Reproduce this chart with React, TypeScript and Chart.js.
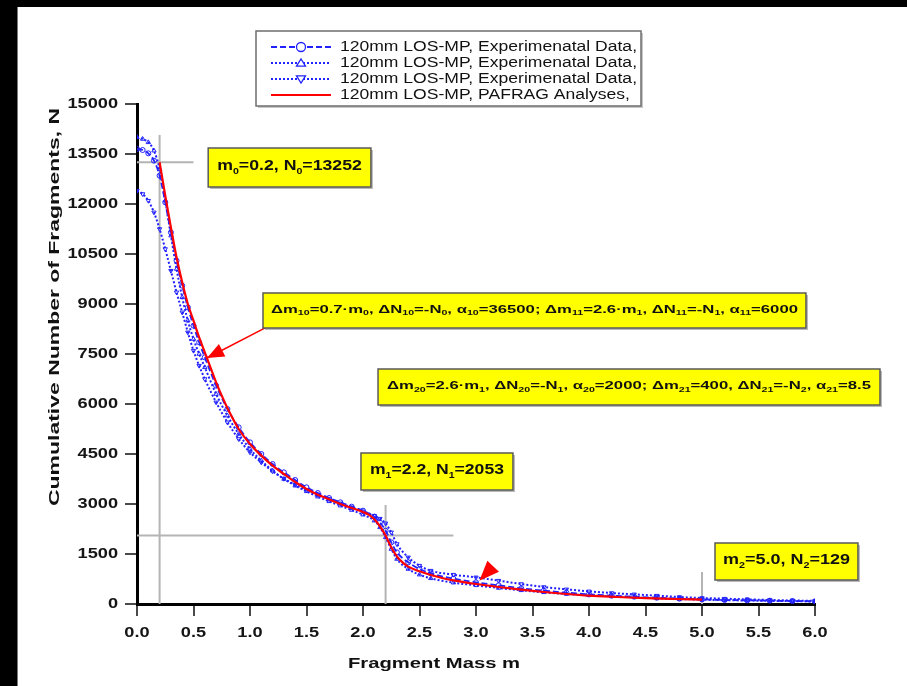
import React, { useEffect, useRef } from 'react';
import { Chart, registerables } from 'chart.js';

Chart.register(...registerables);

const W = 907;
const H = 686;

// ---------- data ----------
const X_TICK_VALUES = [0, 0.5, 1, 1.5, 2, 2.5, 3, 3.5, 4, 4.5, 5, 5.5, 6];
const X_TICK_LABELS = ['0.0', '0.5', '1.0', '1.5', '2.0', '2.5', '3.0', '3.5', '4.0', '4.5', '5.0', '5.5', '6.0'];
const Y_TICK_VALUES = [0, 1500, 3000, 4500, 6000, 7500, 9000, 10500, 12000, 13500, 15000];
const Y_TICK_LABELS = ['0', '1500', '3000', '4500', '6000', '7500', '9000', '10500', '12000', '13500', '15000'];

const LEGEND_LABELS = [
  '120mm LOS-MP, Experimenatal Data,',
  '120mm LOS-MP, Experimenatal Data,',
  '120mm LOS-MP, Experimenatal Data,',
  '120mm LOS-MP, PAFRAG Analyses,',
];

const MASS_EXP = [0, 0.05, 0.1, 0.15, 0.2, 0.25, 0.3, 0.35, 0.4, 0.45, 0.5, 0.55, 0.6, 0.7, 0.8, 0.9, 1.0, 1.1, 1.2, 1.3, 1.4, 1.5, 1.6, 1.7, 1.8, 1.9, 2.0, 2.1, 2.15, 2.2, 2.25, 2.3, 2.4, 2.5, 2.6, 2.8, 3.0, 3.2, 3.4, 3.6, 3.8, 4.0, 4.2, 4.4, 4.6, 4.8, 5.0, 5.2, 5.4, 5.6, 5.8, 6.0];
const EXP_A = [13650, 13620, 13520, 13300, 12850, 12050, 11150, 10300, 9550, 8900, 8350, 7850, 7400, 6550, 5850, 5300, 4850, 4500, 4200, 3950, 3720, 3500, 3330, 3180, 3050, 2920, 2800, 2620, 2450, 2200, 1850, 1550, 1250, 1050, 920, 760, 650, 560, 470, 400, 340, 290, 250, 220, 190, 160, 140, 120, 110, 100, 90, 80];
const EXP_B = [14000, 13950, 13850, 13600, 13050, 12100, 11050, 10050, 9200, 8500, 7950, 7500, 7100, 6300, 5650, 5100, 4650, 4300, 4000, 3750, 3550, 3380, 3220, 3080, 2950, 2820, 2680, 2500, 2300, 2000, 1650, 1350, 1050, 880, 770, 640, 560, 480, 410, 350, 300, 260, 230, 200, 170, 150, 130, 115, 105, 95, 85, 75];
const EXP_C = [12400, 12300, 12100, 11750, 11250, 10650, 10000, 9350, 8750, 8150, 7600, 7150, 6750, 6050, 5450, 4950, 4550, 4250, 3980, 3760, 3580, 3420, 3280, 3150, 3020, 2900, 2780, 2650, 2560, 2420, 2150, 1800, 1400, 1150, 1000, 880, 800, 700, 600, 510, 440, 380, 330, 290, 250, 210, 180, 160, 140, 120, 105, 95];

const MASS_PAFRAG = [0.2, 0.25, 0.3, 0.35, 0.4, 0.45, 0.5, 0.55, 0.6, 0.65, 0.7, 0.75, 0.8, 0.9, 1.0, 1.1, 1.2, 1.3, 1.4, 1.5, 1.6, 1.7, 1.8, 1.9, 2.0, 2.05, 2.1, 2.15, 2.2, 2.25, 2.3, 2.35, 2.4, 2.5, 2.6, 2.7, 2.8, 3.0, 3.2, 3.4, 3.6, 3.8, 4.0, 4.25, 4.5, 4.75, 5.0];
const N_PAFRAG = [13252, 12250, 11300, 10400, 9650, 9000, 8500, 8000, 7550, 7100, 6650, 6250, 5880, 5250, 4800, 4450, 4150, 3900, 3660, 3450, 3280, 3140, 3000, 2880, 2760, 2680, 2540, 2330, 2053, 1700, 1430, 1250, 1120, 980, 870, 780, 710, 600, 510, 430, 360, 300, 250, 210, 175, 150, 129];

// reference (guide) lines
const GUIDE_V_MASS = [0.2, 2.2, 5.0];
const GUIDE_V_TOP = [14070, 2970, 960];
const GUIDE_H_N = [13252, 2053];
const GUIDE_H_END = [0.5, 2.8];

// annotation texts: [text, isSubscript]
type Part = [string, boolean];
const T_M0: Part[] = [['m', false], ['0', true], ['=0.2, N', false], ['0', true], ['=13252', false]];
const T_M1: Part[] = [['m', false], ['1', true], ['=2.2, N', false], ['1', true], ['=2053', false]];
const T_M2: Part[] = [['m', false], ['2', true], ['=5.0, N', false], ['2', true], ['=129', false]];
const T_D1: Part[] = [
  ['Δm', false], ['10', true], ['=0.7·m', false], ['0', true], [', ΔN', false], ['10', true], ['=-N', false], ['0', true],
  [', α', false], ['10', true], ['=36500; Δm', false], ['11', true], ['=2.6·m', false], ['1', true], [', ΔN', false], ['11', true],
  ['=-N', false], ['1', true], [', α', false], ['11', true], ['=6000', false],
];
const T_D2: Part[] = [
  ['Δm', false], ['20', true], ['=2.6·m', false], ['1', true], [', ΔN', false], ['20', true], ['=-N', false], ['1', true],
  [', α', false], ['20', true], ['=2000; Δm', false], ['21', true], ['=400, ΔN', false], ['21', true], ['=-N', false], ['2', true],
  [', α', false], ['21', true], ['=8.5', false],
];

// ---------- layout / styles ----------
const FAM = '"Liberation Sans", Arial, Helvetica, sans-serif';
const BLUE = '#2222ff';
const RED = '#ff0000';
const TEXT_SX = 1.3;

const pts = (xs: number[], ys: number[]) => xs.map((x, i) => ({ x, y: ys[i] }));

function drawRich(ctx: CanvasRenderingContext2D, parts: Part[], x: number, y: number, size: number, bold: boolean, targetW: number | null, sxDefault: number, align: 'left' | 'center' | 'right') {
  const f = (sub: boolean) => `${bold ? 'bold ' : ''}${sub ? Math.round(size * 0.62) : size}px ${FAM}`;
  let raw = 0;
  const widths = parts.map((p) => {
    ctx.font = f(p[1]);
    const w = ctx.measureText(p[0]).width;
    raw += w;
    return w;
  });
  const sx = targetW ? targetW / raw : sxDefault;
  const total = raw * sx;
  const x0 = align === 'center' ? x - total / 2 : align === 'right' ? x - total : x;
  ctx.save();
  ctx.translate(x0, y);
  ctx.scale(sx, 1);
  ctx.textBaseline = 'middle';
  ctx.textAlign = 'left';
  let px = 0;
  parts.forEach((p, i) => {
    ctx.font = f(p[1]);
    ctx.fillText(p[0], px, p[1] ? size * 0.32 : 0);
    px += widths[i];
  });
  ctx.restore();
  return sx;
}

function arrowHead(ctx: CanvasRenderingContext2D, tx: number, ty: number, fx: number, fy: number, len: number, half: number) {
  const a = Math.atan2(ty - fy, tx - fx);
  ctx.beginPath();
  ctx.moveTo(tx, ty);
  ctx.lineTo(tx - len * Math.cos(a) + half * Math.sin(a), ty - len * Math.sin(a) - half * Math.cos(a));
  ctx.lineTo(tx - len * Math.cos(a) - half * Math.sin(a), ty - len * Math.sin(a) + half * Math.cos(a));
  ctx.closePath();
  ctx.fill();
}

const overlayPlugin = {
  id: 'overlay',
  beforeDraw(chart: any) {
    const ctx = chart.ctx as CanvasRenderingContext2D;
    ctx.save();
    ctx.fillStyle = '#ffffff';
    ctx.fillRect(0, 0, W, H);
    ctx.fillStyle = '#000000';
    ctx.fillRect(0, 0, W, 7);
    ctx.fillRect(0, 0, 17, H);
    ctx.fillStyle = '#7a7a7a';
    ctx.fillRect(17, 7, 1, H - 7);
    ctx.restore();
  },
  afterDraw(chart: any) {
    const ctx = chart.ctx as CanvasRenderingContext2D;
    const xs = chart.scales.x;
    const ys = chart.scales.y;
    const X = (v: number) => xs.getPixelForValue(v);
    const Y = (v: number) => ys.getPixelForValue(v);
    ctx.save();

    // tick labels (stretched, from the scales' own ticks)
    ctx.fillStyle = '#151515';
    xs.ticks.forEach((t: any, i: number) => {
      drawRich(ctx, [[X_TICK_LABELS[i], false]], X(t.value), 633, 14, true, null, TEXT_SX, 'center');
    });
    ys.ticks.forEach((t: any, i: number) => {
      drawRich(ctx, [[Y_TICK_LABELS[i], false]], 118, Y(t.value), 14, true, null, TEXT_SX, 'right');
    });

    // arrows
    ctx.strokeStyle = RED;
    ctx.fillStyle = RED;
    ctx.lineWidth = 1.5;
    const a1t = [X(0.62), Y(7380)];
    const a1f = [X(1.16), Y(8330)];
    ctx.beginPath();
    ctx.moveTo(a1f[0], a1f[1]);
    ctx.lineTo(a1t[0], a1t[1]);
    ctx.stroke();
    arrowHead(ctx, a1t[0], a1t[1], a1f[0], a1f[1], 17, 7);
    arrowHead(ctx, X(3.03), Y(700), X(3.17), Y(1200), 20, 8);

    // annotation boxes
    const box = (x0: number, x1: number, y0: number, y1: number, parts: Part[], size: number, pad: number) => {
      const l = X(x0), r = X(x1), t = Y(y0), b = Y(y1);
      ctx.fillStyle = '#b8b8b8';
      ctx.fillRect(l + 2, t + 2, r - l, b - t);
      ctx.fillStyle = '#ffff00';
      ctx.fillRect(l, t, r - l, b - t);
      ctx.strokeStyle = '#5a5a5a';
      ctx.lineWidth = 1.5;
      ctx.strokeRect(l, t, r - l, b - t);
      ctx.fillStyle = '#111';
      drawRich(ctx, parts, (l + r) / 2, (t + b) / 2 - size * 0.08, size, true, r - l - 2 * pad, 1, 'center');
    };
    box(0.63, 2.07, 13680, 12510, T_M0, 15, 9);
    box(1.115, 5.92, 9330, 8280, T_D1, 11, 8);
    box(2.133, 6.575, 7050, 5970, T_D2, 11, 9);
    box(1.982, 3.327, 4530, 3420, T_M1, 15, 9);
    box(5.115, 6.38, 1830, 720, T_M2, 15, 8);

    // legend
    const lx0 = 256, lx1 = 641, ly0 = 31, ly1 = 106;
    ctx.fillStyle = '#c8c8c8';
    ctx.fillRect(lx0 + 2, ly0 + 2, lx1 - lx0, ly1 - ly0);
    ctx.fillStyle = '#ffffff';
    ctx.fillRect(lx0, ly0, lx1 - lx0, ly1 - ly0);
    ctx.strokeStyle = '#6e6e6e';
    ctx.lineWidth = 1.5;
    ctx.strokeRect(lx0, ly0, lx1 - lx0, ly1 - ly0);
    const ds = chart.data.datasets;
    let sx = 0;
    for (let i = 0; i < 4; i++) {
      const d = ds[i];
      const yy = 47 + i * 16;
      ctx.save();
      ctx.strokeStyle = d.borderColor;
      ctx.lineWidth = d.borderWidth;
      ctx.setLineDash(d.borderDash || []);
      ctx.beginPath();
      ctx.moveTo(271, yy);
      ctx.lineTo(331, yy);
      ctx.stroke();
      ctx.setLineDash([]);
      if (d.pointRadius > 0) {
        ctx.fillStyle = '#ffffff';
        ctx.lineWidth = 1.3;
        const cx = 301, r = 4.5;
        ctx.beginPath();
        if (d.pointStyle === 'circle') {
          ctx.arc(cx, yy, r, 0, Math.PI * 2);
        } else if (d.pointRotation === 180) {
          ctx.moveTo(cx - r, yy - r * 0.7);
          ctx.lineTo(cx + r, yy - r * 0.7);
          ctx.lineTo(cx, yy + r * 0.9);
          ctx.closePath();
        } else {
          ctx.moveTo(cx - r, yy + r * 0.7);
          ctx.lineTo(cx + r, yy + r * 0.7);
          ctx.lineTo(cx, yy - r * 0.9);
          ctx.closePath();
        }
        ctx.fill();
        ctx.stroke();
      }
      ctx.restore();
      ctx.fillStyle = '#111';
      if (i === 0) {
        sx = drawRich(ctx, [[d.label, false]], 340, yy, 14, false, 297, 1, 'left');
      } else {
        drawRich(ctx, [[d.label, false]], 340, yy, 14, false, null, sx, 'left');
      }
    }

    // axis titles
    ctx.fillStyle = '#111';
    drawRich(ctx, [['Fragment Mass m', false]], 434, 664, 15, true, 172, 1, 'center');
    ctx.save();
    ctx.translate(55, 307);
    ctx.rotate(-Math.PI / 2);
    drawRich(ctx, [['Cumulative Number of Fragments, N', false]], 0, 0, 15, true, 398, 1, 'center');
    ctx.restore();

    ctx.restore();
  },
};

export default function App() {
  const ref = useRef<HTMLCanvasElement>(null);
  useEffect(() => {
    document.body.style.margin = '0';
    const guideSets: any[] = [];
    GUIDE_V_MASS.forEach((m, i) => {
      guideSets.push({
        label: 'guide', data: [{ x: m, y: GUIDE_V_TOP[i] }, { x: m, y: 0 }],
        borderColor: '#b4b4b4', borderWidth: 2, pointRadius: 0, order: 10, tension: 0,
      });
    });
    GUIDE_H_N.forEach((n, i) => {
      guideSets.push({
        label: 'guide', data: [{ x: 0, y: n }, { x: GUIDE_H_END[i], y: n }],
        borderColor: '#b4b4b4', borderWidth: 2, pointRadius: 0, order: 10, tension: 0,
      });
    });
    const chart = new Chart(ref.current!, {
      type: 'line',
      data: {
        datasets: [
          {
            label: LEGEND_LABELS[0], data: pts(MASS_EXP, EXP_A), borderColor: BLUE, borderWidth: 1.8, borderDash: [6, 3],
            pointStyle: 'circle', pointRadius: 2.5, pointBorderColor: BLUE, pointBackgroundColor: 'rgba(255,255,255,0)', pointBorderWidth: 1,
            cubicInterpolationMode: 'monotone', order: 3,
          },
          {
            label: LEGEND_LABELS[1], data: pts(MASS_EXP, EXP_B), borderColor: BLUE, borderWidth: 2, borderDash: [2, 2],
            pointStyle: 'triangle', pointRotation: 0, pointRadius: 2.5, pointBorderColor: BLUE, pointBackgroundColor: 'rgba(255,255,255,0)', pointBorderWidth: 1,
            cubicInterpolationMode: 'monotone', order: 3,
          },
          {
            label: LEGEND_LABELS[2], data: pts(MASS_EXP, EXP_C), borderColor: BLUE, borderWidth: 2, borderDash: [2, 2],
            pointStyle: 'triangle', pointRotation: 180, pointRadius: 2.5, pointBorderColor: BLUE, pointBackgroundColor: 'rgba(255,255,255,0)', pointBorderWidth: 1,
            cubicInterpolationMode: 'monotone', order: 3,
          },
          {
            label: LEGEND_LABELS[3], data: pts(MASS_PAFRAG, N_PAFRAG), borderColor: RED, borderWidth: 2.2, pointRadius: 0,
            cubicInterpolationMode: 'monotone', order: 1,
          },
          ...guideSets,
        ] as any,
      },
      options: {
        responsive: false,
        animation: false,
        devicePixelRatio: 1,
        layout: { padding: { left: 0, right: W - 815, top: 104, bottom: 0 } },
        plugins: { legend: { display: false }, tooltip: { enabled: false }, title: { display: false } },
        scales: {
          x: {
            type: 'linear', min: 0, max: 6,
            afterBuildTicks: (s: any) => { s.ticks = X_TICK_VALUES.map((v) => ({ value: v })); },
            afterFit: (s: any) => { s.height = H - 604; },
            grid: { drawOnChartArea: false, drawTicks: true, tickLength: 12, color: '#4a4a4a', lineWidth: 2 },
            border: { display: true, color: '#000', width: 3 },
            ticks: { display: false, autoSkip: false, maxRotation: 0 },
          },
          y: {
            type: 'linear', min: 0, max: 15000,
            afterBuildTicks: (s: any) => { s.ticks = Y_TICK_VALUES.map((v) => ({ value: v })); },
            afterFit: (s: any) => { s.width = 137; },
            grid: { drawOnChartArea: false, drawTicks: true, tickLength: 12, color: '#4a4a4a', lineWidth: 2 },
            border: { display: true, color: '#000', width: 3 },
            ticks: { display: false, autoSkip: false },
          },
        },
      } as any,
      plugins: [overlayPlugin],
    });
    return () => chart.destroy();
  }, []);
  return (
    <div style={{ position: 'fixed', left: 0, top: 0, width: W, height: H }}>
      <canvas ref={ref} width={W} height={H} style={{ width: W, height: H, display: 'block' }} />
    </div>
  );
}
